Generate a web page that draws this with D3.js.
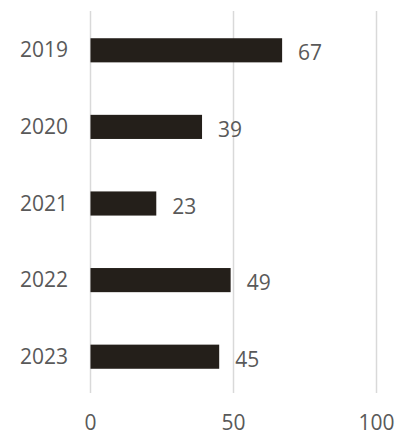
<!DOCTYPE html>
<html><head><meta charset="utf-8">
<script src="https://cdn.jsdelivr.net/npm/d3@7"></script>
<style>body{margin:0;background:#fff}svg{display:block}text{font-family:"Open Sans",sans-serif;fill:#595959}</style>
</head><body>
<script>
const categories = ["2019","2020","2021","2022","2023"];
const values = [67,39,23,49,45];
const xTicks = [0,50,100];

const W=406,H=436;
const svg=d3.select("body").append("svg").attr("width",W).attr("height",H);
const x=d3.scaleLinear().domain([0,100]).range([90.5,376.5]);
const y=d3.scaleBand().domain(categories).range([12,395]).paddingInner(0.685).paddingOuter(0.3425);

svg.append("g").selectAll("line").data(xTicks).join("line")
  .attr("x1",d=>x(d)).attr("x2",d=>x(d)).attr("y1",11).attr("y2",393)
  .attr("stroke","#d9d9d9").attr("stroke-width",1.5);

svg.append("g").selectAll("rect").data(values).join("rect")
  .attr("x",x(0)).attr("y",(d,i)=>y(categories[i]))
  .attr("width",d=>x(d)-x(0)).attr("height",y.bandwidth())
  .attr("fill","#241f1a");

svg.append("g").selectAll("text").data(values).join("text")
  .attr("x",d=>x(d)+16).attr("y",(d,i)=>y(categories[i])+y.bandwidth()/2+10)
  .attr("font-size",21).text(d=>d);

svg.append("g").selectAll("text").data(categories).join("text")
  .attr("x",68).attr("y",d=>y(d)+y.bandwidth()/2+7)
  .attr("text-anchor","end").attr("font-size",21).text(d=>d);

svg.append("g").selectAll("text").data(xTicks).join("text")
  .attr("x",d=>x(d)).attr("y",430).attr("text-anchor","middle")
  .attr("font-size",21).text(d=>d);
</script>
</body></html>
